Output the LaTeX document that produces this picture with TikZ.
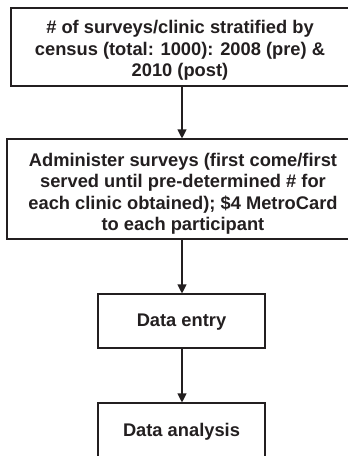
\documentclass[tikz,border=0pt]{standalone}
\usepackage{fontspec}
\setmainfont{Liberation Sans}
\usetikzlibrary{arrows.meta}
\definecolor{ink}{HTML}{231F20}
\begin{document}
\begin{tikzpicture}[x=1pt,y=-1pt,
  box/.style={draw=ink, line width=1.1pt, inner sep=0pt},
  txt/.style={text=ink, font=\bfseries\fontsize{18.3}{21.5}\selectfont, align=center, inner sep=0pt},
  arr/.style={draw=ink, line width=1.1pt, -{Triangle[length=9pt,width=9pt]}}]
\useasboundingbox[fill=white] (0,0) rectangle (348,456);
\node[box, minimum width=338pt, minimum height=78pt] (b1) at (180,47) {};
\node[txt] (t1) at ([yshift=-3.5pt]b1.center)
  {\# of surveys/clinic stratified by\\census (total: 1000): 2008 (pre) \&\\2010 (post)};
\node[box, minimum width=352pt, minimum height=100pt] (b2) at (183,189) {};
\node[txt] (t2) at ([yshift=-5pt]b2.center)
  {Administer surveys (first come/first\\served until pre-determined \# for\\each clinic obtained); \$4 MetroCard\\to each participant};
\node[box, minimum width=167pt, minimum height=54pt] (b3) at (181.5,321) {};
\node[txt] (t3) at ([yshift=-1pt]b3.center) {Data entry};
\node[box, minimum width=167pt, minimum height=58pt] (b4) at (181.5,432) {};
\node[txt] (t4) at (b4.center) {Data analysis};
\coordinate (ax) at (182,0);
\draw[arr] (b1.south -| ax) -- (b2.north -| ax);
\draw[arr] (b2.south -| ax) -- (b3.north -| ax);
\draw[arr] (b3.south -| ax) -- (b4.north -| ax);
\end{tikzpicture}
\end{document}
